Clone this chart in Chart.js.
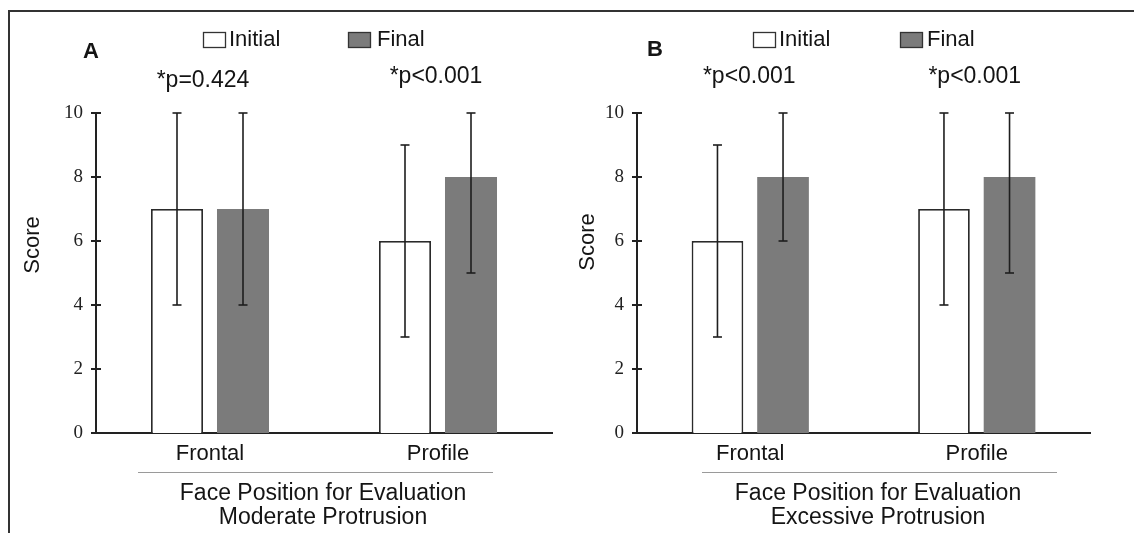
<!DOCTYPE html>
<html>
<head>
<meta charset="utf-8">
<script src="https://cdn.jsdelivr.net/npm/chart.js@4.4.1/dist/chart.umd.min.js"></script>
<style>
body{margin:0;background:#fff;}
#wrap{position:relative;width:1134px;height:533px;overflow:hidden;background:#fff;}
#frame{position:absolute;left:8px;top:10px;width:1200px;height:600px;border-left:2px solid #333;border-top:2px solid #333;}
canvas{position:absolute;top:0;}
#cA{left:0;}
#cB{left:567px;}
</style>
</head>
<body>
<div id="wrap">
<div id="frame"></div>
<canvas id="cA" width="567" height="533"></canvas>
<canvas id="cB" width="567" height="533"></canvas>
</div>
<script>
var positions = ["Frontal", "Profile"];
var seriesNames = ["Initial", "Final"];
var yMin = 0, yMax = 10, yStep = 2;

// panel A - moderate protrusion
var initialA = [7, 6];
var initialLowA = [4, 3];
var initialHighA = [10, 9];
var finalA = [7, 8];
var finalLowA = [4, 5];
var finalHighA = [10, 10];
var pValuesA = ["*p=0.424", "*p<0.001"];

// panel B - excessive protrusion
var initialB = [6, 7];
var initialLowB = [3, 4];
var initialHighB = [9, 10];
var finalB = [8, 8];
var finalLowB = [6, 5];
var finalHighB = [10, 10];
var pValuesB = ["*p<0.001", "*p<0.001"];

var sans = "'Liberation Sans', Arial, sans-serif";
var ink = "#141414";

function line(ctx, x1, y1, x2, y2){
    ctx.beginPath()
    ctx.moveTo(x1, y1)
    ctx.lineTo(x2, y2)
    ctx.stroke()
}

var decor = {
    id: "decor",
    afterDraw: function(chart){
        var o = chart.options.plugins.decor
        var ctx = chart.ctx
        var xs = chart.scales.x, ys = chart.scales.y
        var ax = chart.chartArea.left, ay = chart.chartArea.bottom
        ctx.save()
        ctx.strokeStyle = "#222"
        ctx.lineWidth = 2
        // ticks across the y axis, and x axis reaching past it
        ys.ticks.forEach(function(t){
            var py = ys.getPixelForValue(t.value)
            line(ctx, ax - 5, py, ax + 5, py)
        })
        line(ctx, ax - 5, ay, ax, ay)

        // error bars
        ctx.lineWidth = 1.6
        ctx.strokeStyle = "#1e1e1e"
        chart.data.datasets.forEach(function(ds, di){
            var meta = chart.getDatasetMeta(di)
            meta.data.forEach(function(bar, i){
                var top = ys.getPixelForValue(ds.high[i])
                var bot = ys.getPixelForValue(ds.low[i])
                line(ctx, bar.x, top, bar.x, bot)
                line(ctx, bar.x - 4.5, top, bar.x + 4.5, top)
                line(ctx, bar.x - 4.5, bot, bar.x + 4.5, bot)
            })
        })

        ctx.fillStyle = ink
        ctx.textBaseline = "middle"
        // panel letter
        ctx.font = "bold 22px " + sans
        ctx.textAlign = "center"
        ctx.fillText(o.letter, o.letterX, o.letterY)

        // legend
        ctx.font = "22px " + sans
        ctx.textAlign = "left"
        chart.data.datasets.forEach(function(ds, di){
            var bx = o.legendX[di]
            ctx.fillStyle = ds.backgroundColor
            ctx.fillRect(bx, o.legendY, 23, 16)
            ctx.strokeStyle = "#333"
            ctx.lineWidth = 1.3
            ctx.strokeRect(bx + 0.5, o.legendY + 0.5, 22, 15)
            ctx.fillStyle = ink
            ctx.fillText(ds.label, bx + o.legendGap[di], o.legendY + 8)
        })

        // p values over each group
        ctx.font = "23px " + sans
        ctx.textAlign = "center"
        o.pValues.forEach(function(txt, i){
            ctx.fillText(txt, xs.getPixelForValue(i) + o.pDx[i], o.pY[i])
        })

        // y title
        ctx.font = "22px " + sans
        ctx.save()
        ctx.translate(o.scoreX, o.scoreY)
        ctx.rotate(-Math.PI / 2)
        ctx.fillText("Score", 0, 0)
        ctx.restore()

        // rule and x title
        ctx.strokeStyle = "#9a9a9a"
        ctx.lineWidth = 1
        line(ctx, o.sepX[0], 472.5, o.sepX[1], 472.5)
        ctx.font = "23px " + sans
        ctx.fillText(o.titleLines[0], o.titleX, 494)
        ctx.fillText(o.titleLines[1], o.titleX, 518)
        ctx.restore()
    }
}

function makePanel(id, initial, iLow, iHigh, fin, fLow, fHigh, axisWidth, padRight, extra){
    var c = document.getElementById(id).getContext("2d")
    return new Chart(c, {
        type: "bar",
        data: {
            labels: positions,
            datasets: [{
                label: seriesNames[0],
                data: initial,
                low: iLow,
                high: iHigh,
                backgroundColor: "#ffffff",
                borderColor: "#2a2a2a",
                borderWidth: 1.8
            }, {
                label: seriesNames[1],
                data: fin,
                low: fLow,
                high: fHigh,
                backgroundColor: "#7b7b7b",
                borderWidth: 0
            }]
        },
        options: {
            responsive: false,
            animation: false,
            categoryPercentage: 0.579,
            barPercentage: 0.788,
            layout: { padding: { left: 0, right: padRight, top: 113, bottom: 0 } },
            scales: {
                x: {
                    z: 1,
                    grid: { display: false, drawTicks: false },
                    border: { display: true, color: "#222", width: 2 },
                    ticks: { color: ink, padding: 8, font: { family: sans, size: 22 } },
                    afterFit: function(s){ s.height = 100 }
                },
                y: {
                    min: yMin,
                    max: yMax,
                    grid: { display: false, drawTicks: false },
                    border: { display: true, color: "#222", width: 2 },
                    ticks: { stepSize: yStep, color: "#222", padding: 13,
                        font: { family: "'Liberation Serif', 'Times New Roman', serif", size: 19 } },
                    afterFit: function(s){ s.width = axisWidth }
                }
            },
            plugins: {
                legend: { display: false },
                tooltip: { enabled: false },
                decor: extra
            }
        },
        plugins: [decor]
    });
}

makePanel("cA", initialA, initialLowA, initialHighA, finalA, finalLowA, finalHighA, 96, 15, {
    letter: "A", letterX: 91, letterY: 52,
    legendX: [203, 348], legendGap: [26, 29], legendY: 32,
    pValues: pValuesA, pDx: [-7, -2], pY: [81, 77],
    scoreX: 33, scoreY: 245,
    sepX: [138, 493],
    titleX: 323,
    titleLines: ["Face Position for Evaluation", "Moderate Protrusion"]
})

makePanel("cB", initialB, initialLowB, initialHighB, finalB, finalLowB, finalHighB, 70, 44, {
    letter: "B", letterX: 88, letterY: 50,
    legendX: [186, 333], legendGap: [26, 27], legendY: 32,
    pValues: pValuesB, pDx: [-1, -2], pY: [77, 77],
    scoreX: 21, scoreY: 242,
    sepX: [135, 490],
    titleX: 311,
    titleLines: ["Face Position for Evaluation", "Excessive Protrusion"]
})
</script>
</body>
</html>
